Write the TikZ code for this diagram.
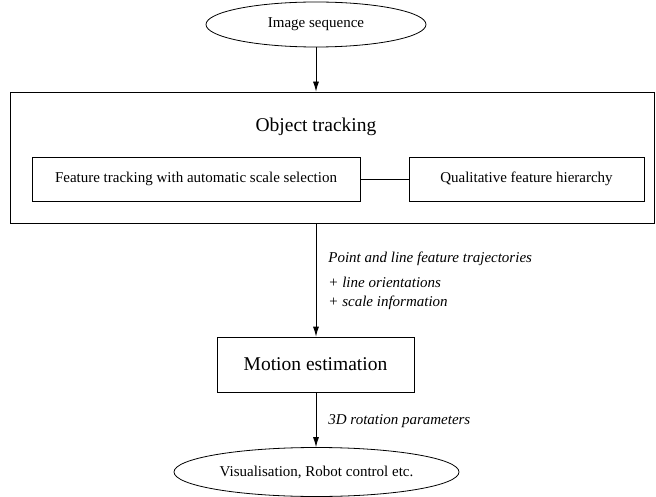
\documentclass[tikz,border=0pt]{standalone}
\usepackage{fontspec}
\setmainfont{Liberation Serif}
\usetikzlibrary{shapes.geometric,arrows.meta}
\begin{document}
\begin{tikzpicture}[x=1pt,y=-1pt,
  line width=0.8pt,
  base/.style={font=\fontsize{15}{18}\selectfont},
  big/.style={font=\fontsize{19.5}{23}\selectfont},
  oval/.style={draw,ellipse,inner sep=0pt,base},
  box/.style={draw,rectangle,inner sep=0pt},
  lab/.style={anchor=west,inner sep=0pt,font=\fontsize{15}{18}\selectfont\itshape},
  arr/.style={-{Latex[length=10pt,width=6pt]}}]
\useasboundingbox (0,0) rectangle (656,497);
\node[oval,minimum width=220pt,minimum height=45pt] (img) at (316,24.5) {Image sequence};
\node[box,minimum width=644pt,minimum height=131pt] (track) at (332,157.5) {};
\node[big,inner sep=0pt] (title) at (316,127) {Object tracking};
\node[box,base,minimum width=328pt,minimum height=44pt] (ft) at (196,179) {Feature tracking with automatic scale selection};
\node[box,base,minimum width=235pt,minimum height=44pt] (qf) at (526.5,179) {Qualitative feature hierarchy};
\node[box,big,minimum width=197pt,minimum height=55pt] (motion) at (315.5,364.5) {Motion estimation};
\node[oval,minimum width=285pt,minimum height=49pt] (vis) at (316.5,472) {Visualisation, Robot control etc.};
\draw[arr] (img.south) -- (img.south |- track.north);
\draw (ft) -- (qf);
\draw[arr] (img.south |- track.south) -- (img.south |- motion.north);
\draw[arr] (img.south |- motion.south) -- (img.south |- vis.north);
\node[lab] (l1) at (328,259) {Point and line feature trajectories};
\node[lab] (l2) at (328,282) {+ line orientations};
\node[lab] (l3) at (328,303) {+ scale information};
\node[lab] (l4) at (328,421) {3D rotation parameters};
\end{tikzpicture}
\end{document}
